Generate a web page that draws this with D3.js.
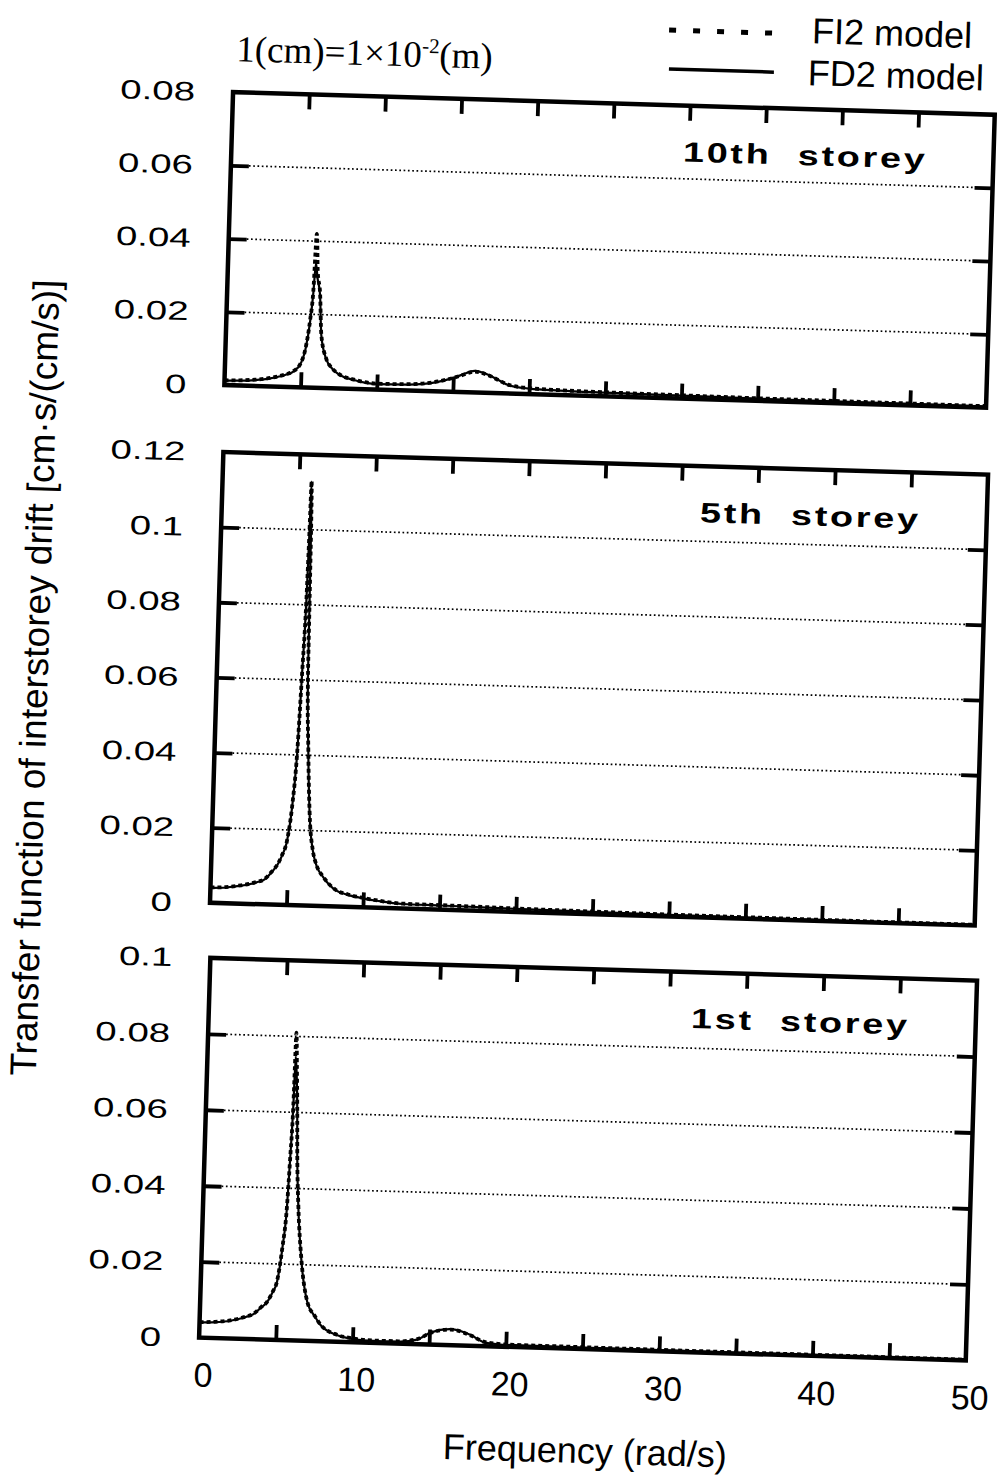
<!DOCTYPE html>
<html><head><meta charset="utf-8">
<script src="https://cdn.jsdelivr.net/npm/d3@7/dist/d3.min.js"></script>
<style>body{margin:0;background:#fff} svg{display:block}</style>
</head><body>
<script>
// ---------------- data ----------------
const storeyLabels = ["10th  storey", "5th  storey", "1st  storey"];
const yMaxes = [0.08, 0.12, 0.1];
const yTicks10 = [0, 0.02, 0.04, 0.06, 0.08];
const yTicks5 = [0, 0.02, 0.04, 0.06, 0.08, 0.1, 0.12];
const yTicks1 = [0, 0.02, 0.04, 0.06, 0.08, 0.1];
const yTickLabels10 = ["0", "0.02", "0.04", "0.06", "0.08"];
const yTickLabels5 = ["0", "0.02", "0.04", "0.06", "0.08", "0.1", "0.12"];
const yTickLabels1 = ["0", "0.02", "0.04", "0.06", "0.08", "0.1"];
const xTickMarks = [5, 10, 15, 20, 25, 30, 35, 40, 45];
const xTickValues = [0, 10, 20, 30, 40, 50];
const xTickLabels = ["0", "10", "20", "30", "40", "50"];
const seriesNames = ["FI2 model", "FD2 model"];

// 10th storey
const freq10 = [0,1,2,3,4,4.5,5,5.25,5.5,5.65,5.77,5.9,6.1,6.26,6.64,7,7.5,8.5,9.2,10,12,14,15,15.5,16.4,17.3,18,18.6,20,22,25,30,35,40,45,50];
const fd2_10 = [0.0012,0.0013,0.0016,0.0022,0.0033,0.0042,0.0068,0.0104,0.018,0.0254,0.034,0.030,0.0254,0.0144,0.0078,0.0055,0.0038,0.0024,0.0018,0.0015,0.0016,0.0026,0.0038,0.0046,0.0059,0.0049,0.0035,0.0023,0.0015,0.0012,0.0010,0.0008,0.0006,0.0005,0.0004,0.0003];
const fi2_10 = [0.0013,0.0014,0.0017,0.0023,0.0034,0.0043,0.0069,0.0106,0.0185,0.0262,0.042,0.032,0.0258,0.0146,0.0079,0.0056,0.0039,0.0025,0.0019,0.0016,0.0017,0.0027,0.0038,0.0045,0.0057,0.0048,0.0035,0.0024,0.0016,0.0013,0.0011,0.0009,0.0007,0.0006,0.0005,0.0004];

// 5th storey
const freq5 = [0,1,2,3,3.5,4,4.3,4.6,4.9,5.17,5.41,5.57,5.71,5.78,5.82,5.88,5.92,5.96,6.13,6.39,6.6,6.9,7.33,8.2,9,10,11,12.6,15,17,20,25,30,35,40,50];
const fd2_5 = [0.0040,0.0042,0.0048,0.0058,0.0066,0.0088,0.0104,0.013,0.0168,0.0257,0.041,0.0614,0.081,0.0997,0.1128,0.1,0.081,0.0614,0.041,0.0214,0.015,0.0106,0.0078,0.0043,0.0032,0.0024,0.0018,0.0012,0.0011,0.0010,0.0008,0.0006,0.0004,0.0003,0.0002,0.0001];
const fi2_5 = [0.0041,0.0043,0.0049,0.0059,0.0067,0.0089,0.0105,0.0131,0.0169,0.0259,0.0412,0.0616,0.0812,0.0999,0.1130,0.1002,0.0812,0.0616,0.0412,0.0216,0.0151,0.0107,0.0079,0.0044,0.0033,0.0025,0.0019,0.0013,0.0012,0.0011,0.0009,0.0007,0.0005,0.0004,0.0003,0.0002];

// 1st storey
const freq1 = [0,1,2,3,3.5,4,4.35,4.7,4.97,5.25,5.47,5.59,5.69,5.75,5.85,5.95,6.05,6.22,6.5,6.98,7.5,7.9,9,10,10.7,12,13,14.2,15.1,16.4,17.7,18.6,19.5,20,25,30,40,50];
const fd2_1 = [0.0040,0.0042,0.0047,0.0058,0.0066,0.0085,0.0098,0.0125,0.0153,0.0241,0.0348,0.048,0.0613,0.0747,0.070,0.0613,0.048,0.0348,0.0217,0.0102,0.0065,0.0042,0.0017,0.0009,0.0006,0.0005,0.0005,0.0012,0.0032,0.0042,0.0028,0.0010,0.0006,0.0005,0.0004,0.0003,0.0002,0.0001];
const fi2_1 = [0.0041,0.0043,0.0048,0.0059,0.0067,0.0086,0.0099,0.0126,0.0155,0.0243,0.035,0.0482,0.0615,0.081,0.072,0.0615,0.0482,0.035,0.0219,0.0103,0.0066,0.0043,0.0018,0.0010,0.0007,0.0006,0.0006,0.0013,0.0031,0.0041,0.0027,0.0011,0.0007,0.0006,0.0005,0.0004,0.0003,0.0002];

// ---------------- layout ----------------
const W = 997, H = 1481;
const frames = [[103, 396], [463, 914], [969, 1349]];
const xRanges = [[214, 976], [215, 980], [217, 984]];
const panelData = [
  {freq: freq10, fi2: fi2_10, fd2: fd2_10, ticks: yTicks10, labels: yTickLabels10},
  {freq: freq5,  fi2: fi2_5,  fd2: fd2_5,  ticks: yTicks5,  labels: yTickLabels5},
  {freq: freq1,  fi2: fi2_1,  fd2: fd2_1,  ticks: yTicks1,  labels: yTickLabels1}
];
const SANS = "'Liberation Sans', Arial, Helvetica, sans-serif";

const svg = d3.select("body").append("svg").attr("width", W).attr("height", H)
  .style("background", "#fff");
const root = svg.append("g").attr("transform", "rotate(1.7,590,740)");

panelData.forEach((p, i) => {
  const [top, bot] = frames[i];
  const [L, R] = xRanges[i];
  const x = d3.scaleLinear().domain([0, 50]).range([L, R]);
  const y = d3.scaleLinear().domain([0, yMaxes[i]]).range([bot, top]);
  const g = root.append("g");
  const inner = p.ticks.filter(t => t > 0 && t < yMaxes[i] - 1e-9);

  // gridlines
  g.selectAll(".grid").data(inner).join("line")
    .attr("x1", L + 18).attr("x2", R - 18)
    .attr("y1", d => y(d)).attr("y2", d => y(d))
    .attr("stroke", "#000").attr("stroke-width", 1.7)
    .attr("stroke-dasharray", "1.7,2.6");

  // axes with inward ticks
  const axB = g.append("g").attr("transform", `translate(0,${bot})`)
    .call(d3.axisBottom(x).tickValues(xTickMarks).tickSize(-15).tickFormat(""));
  const axT = g.append("g").attr("transform", `translate(0,${top})`)
    .call(d3.axisTop(x).tickValues(xTickMarks).tickSize(-15).tickFormat(""));
  const axL = g.append("g").attr("transform", `translate(${L},0)`)
    .call(d3.axisLeft(y).tickValues(inner).tickSize(-18).tickFormat(""));
  const axR = g.append("g").attr("transform", `translate(${R},0)`)
    .call(d3.axisRight(y).tickValues(inner).tickSize(-18).tickFormat(""));
  [axB, axT, axL, axR].forEach(a => {
    a.select(".domain").remove();
    a.selectAll(".tick line").attr("stroke", "#000").attr("stroke-width", 3.8);
  });

  // y tick labels (wide face)
  g.selectAll(".ylab").data(p.ticks).join("text")
    .attr("transform", d => `translate(${L - 38},${y(d)}) scale(1.45,1)`)
    .attr("text-anchor", "end").attr("dy", "0.36em")
    .attr("font-family", SANS).attr("font-size", 26.5).attr("fill", "#000")
    .text((d, k) => p.labels[k]);

  // curves
  const pts = (vals) => p.freq.map((f, k) => [f, vals[k]]);
  const line = d3.line().x(d => x(d[0])).y(d => y(d[1])).curve(d3.curveMonotoneX);
  g.append("path").attr("d", line(pts(p.fd2)))
    .attr("fill", "none").attr("stroke", "#000").attr("stroke-width", 2.2);
  g.append("path").attr("d", line(pts(p.fi2)))
    .attr("fill", "none").attr("stroke", "#000").attr("stroke-width", 3.8)
    .attr("stroke-dasharray", "4,3");

  // frame
  g.append("rect").attr("x", L).attr("y", top).attr("width", R - L).attr("height", bot - top)
    .attr("fill", "none").attr("stroke", "#000").attr("stroke-width", 4.5);

  // storey label
  g.append("text")
    .attr("transform", `translate(${R - 66},${top + 56}) scale(1.35,1)`)
    .attr("text-anchor", "end").attr("font-family", SANS).attr("font-weight", "bold")
    .attr("font-size", 28).attr("letter-spacing", 2).style("white-space", "pre")
    .attr("fill", "#000").text(storeyLabels[i]);

  if (i === 2) {
    g.selectAll(".xlab").data(xTickValues).join("text")
      .attr("x", d => x(d) + 5).attr("y", bot + 49)
      .attr("text-anchor", "middle").attr("font-family", SANS).attr("font-size", 34)
      .attr("fill", "#000").text((d, k) => xTickLabels[k]);
  }
});

// axis titles
root.append("text").attr("x", 606).attr("y", 1463).attr("text-anchor", "middle")
  .attr("font-family", SANS).attr("font-size", 36).attr("fill", "#000")
  .text("Frequency (rad/s)");
root.append("text").attr("transform", "translate(46,694) rotate(-90)")
  .attr("text-anchor", "middle").attr("font-family", SANS).attr("font-size", 37)
  .attr("fill", "#000").text("Transfer function of interstorey drift [cm\u00B7s/(cm/s)]");

// unit note
const note = root.append("text").attr("x", 216).attr("y", 72)
  .attr("font-family", "'Liberation Serif', 'Times New Roman', serif").attr("font-size", 37)
  .attr("fill", "#000");
note.append("tspan").text("1(cm)=1\u00D710");
note.append("tspan").attr("dy", -14).attr("font-size", 21).text("-2");
note.append("tspan").attr("dy", 14).text("(m)");

// legend
const leg = root.append("g");
leg.append("line").attr("x1", 648).attr("x2", 756).attr("y1", 28).attr("y2", 28)
  .attr("stroke", "#000").attr("stroke-width", 5).attr("stroke-dasharray", "7,17");
leg.append("text").attr("x", 791).attr("y", 37).attr("font-family", SANS).attr("font-size", 36)
  .attr("fill", "#000").text(seriesNames[0]);
leg.append("line").attr("x1", 649).attr("x2", 754).attr("y1", 67).attr("y2", 67)
  .attr("stroke", "#000").attr("stroke-width", 3.5);
leg.append("text").attr("x", 788).attr("y", 79).attr("font-family", SANS).attr("font-size", 36)
  .attr("fill", "#000").text(seriesNames[1]);
</script>
</body></html>
